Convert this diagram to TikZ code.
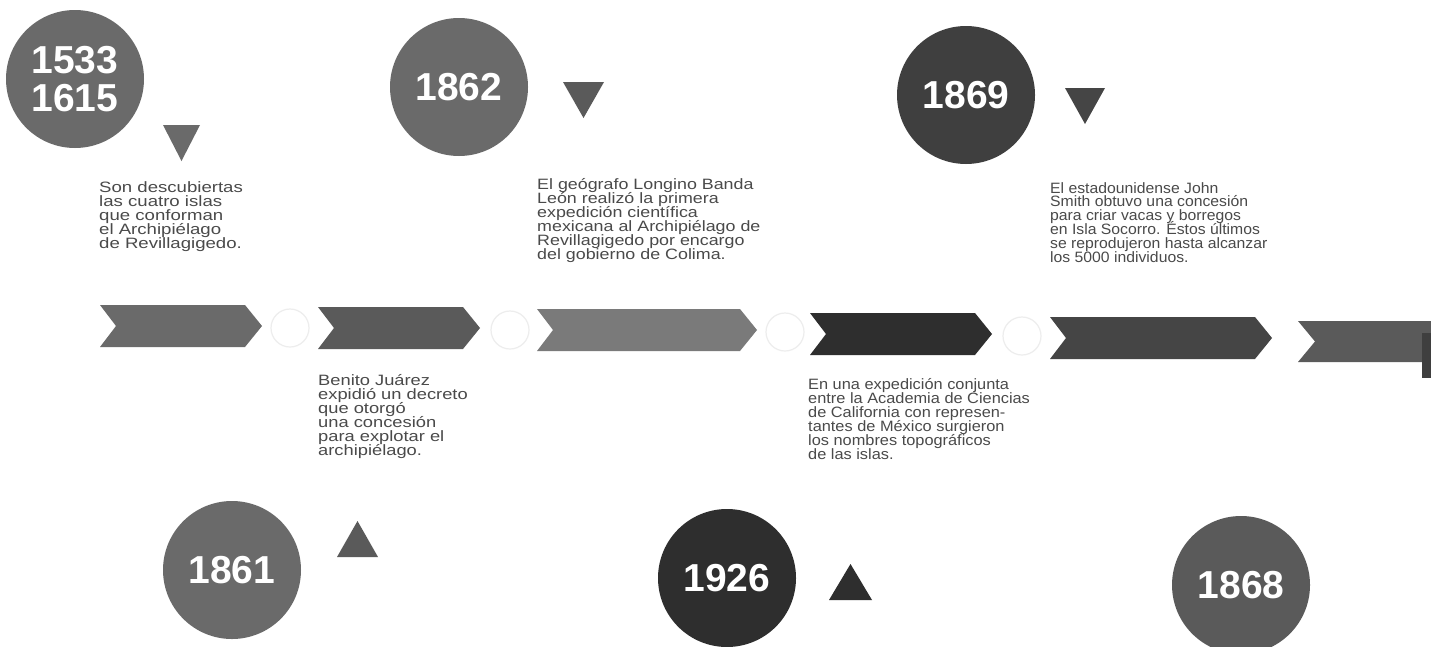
\documentclass[tikz,border=0pt]{standalone}
\usepackage{fontspec}
\setmainfont{Liberation Sans}
\newfontfamily\fA[FakeStretch=1.24]{Liberation Sans}
\newfontfamily\fB[FakeStretch=1.19]{Liberation Sans}
\newfontfamily\fC[FakeStretch=1.05]{Liberation Sans}
\newfontfamily\fD[FakeStretch=1.22]{Liberation Sans}
\newfontfamily\fE[FakeStretch=1.09]{Liberation Sans}
\definecolor{cA}{HTML}{6A6A6A}
\definecolor{cB}{HTML}{5A5A5A}
\definecolor{cC}{HTML}{7A7A7A}
\definecolor{cD}{HTML}{2E2E2E}
\definecolor{cE}{HTML}{454545}
\definecolor{cF}{HTML}{3F3F3F}
\definecolor{bodytext}{HTML}{4A4A4A}
\newcommand{\mychev}[5]{\fill[#5] (#1,#3) -- ({#2-17},#3) -- (#2,{(#3+#4)/2}) -- ({#2-17},#4) -- (#1,#4) -- ({#1+16},{(#3+#4)/2}) -- cycle;}
\newcommand{\tridown}[4]{\fill[#4] (#1,#3) -- (#2,#3) -- ({(#1+#2)/2},{#3+36}) -- cycle;}
\newcommand{\triup}[4]{\fill[#4] (#1,#3) -- (#2,#3) -- ({(#1+#2)/2},{#3-36}) -- cycle;}
\begin{document}
\lineskiplimit=-50pt
\begin{tikzpicture}[x=1pt,y=-1pt,
  year/.style={circle, minimum size=138pt, inner sep=0pt, text=white,
    font=\fontsize{39}{38}\selectfont\bfseries, align=center},
  body/.style={anchor=north west, inner sep=0pt, align=left, text=bodytext},
  ring/.style={draw=black!7, line width=1.2pt}]
\useasboundingbox (0,0) rectangle (1431,646);
\fill[white] (0,0) rectangle (1431,646);

% faint rings between chevrons
\draw[ring] (290,328) circle[radius=19];
\draw[ring] (510,330) circle[radius=19];
\draw[ring] (785,332) circle[radius=19];
\draw[ring] (1022,336) circle[radius=19];

% chevrons
\mychev{100}{262}{305}{347}{cA}
\mychev{318}{480}{307}{349}{cB}
\mychev{537}{757}{309}{351}{cC}
\mychev{810}{992}{313}{355}{cD}
\mychev{1050}{1272}{317}{359}{cE}
\fill[cB] (1298,321) -- (1431,321) -- (1431,362) -- (1298,362) -- (1315,341.5) -- cycle;
\fill[cF] (1422,333) rectangle (1431,378);

% year circles
\node[year, fill=cA] (y1533) at (75,79) {1533\\1615};
\node[year, fill=cA] (y1862) at (459,87) {1862};
\node[year, fill=cF] (y1869) at (966,95) {1869};
\node[year, fill=cA] (y1861) at (232,570) {1861};
\node[year, fill=cD] (y1926) at (727,578) {1926};
\node[year, fill=cB] (y1868) at (1241,585) {1868};

% triangles
\tridown{163}{200}{125}{cA}
\tridown{563}{604}{82}{cB}
\tridown{1065}{1105}{88}{cE}
\triup{337}{378}{557}{cB}
\triup{829}{872}{600}{cD}

% texts
\node[body, font=\fA\fontsize{15}{14}\selectfont] (t1) at (99,181) {Son descubiertas\\las cuatro islas\\que conforman\\el Archipiélago\\de Revillagigedo.};
\node[body, font=\fB\fontsize{15}{14}\selectfont] (t2) at (537,178) {El geógrafo Longino Banda\\León realizó la primera\\expedición científica\\mexicana al Archipiélago de\\Revillagigedo por encargo\\del gobierno de Colima.};
\node[body, font=\fC\fontsize{15}{13.8}\selectfont] (t3) at (1050,182) {El estadounidense John\\Smith obtuvo una concesión\\para criar vacas y borregos\\en Isla Socorro. Éstos últimos\\se reprodujeron hasta alcanzar\\los 5000 individuos.};
\node[body, font=\fD\fontsize{15}{14}\selectfont] (t4) at (318,374) {Benito Juárez\\expidió un decreto\\que otorgó\\una concesión\\para explotar el\\archipiélago.};
\node[body, font=\fE\fontsize{15}{14}\selectfont] (t5) at (808,378) {En una expedición conjunta\\entre la Academia de Ciencias\\de California con represen-\\tantes de México surgieron\\los nombres topográficos\\de las islas.};
\end{tikzpicture}
\end{document}
